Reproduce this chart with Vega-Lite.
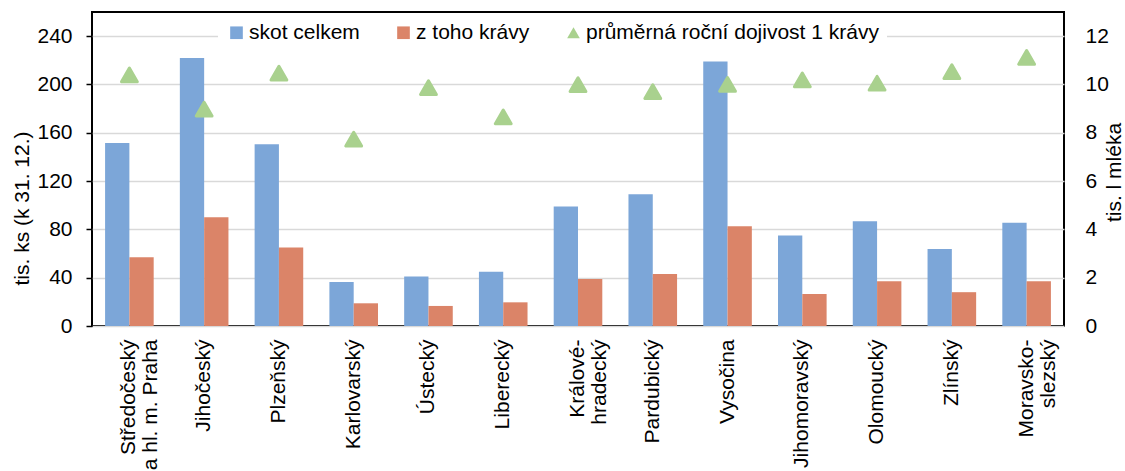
{
  "$schema": "https://vega.github.io/schema/vega-lite/v6.json",
  "width": 972,
  "height": 314,
  "autosize": {"type": "none"},
  "padding": {"left": 92, "top": 12, "right": 61, "bottom": 145},
  "background": "white",
  "config": {
    "font": "Liberation Sans",
    "view": {"stroke": "black", "strokeWidth": 2},
    "axis": {"labelColor": "black", "titleColor": "black", "labelFontSize": 21, "titleFontSize": 21, "titleFontWeight": "normal", "labelFont": "Liberation Sans", "titleFont": "Liberation Sans"},
    "legend": {
      "orient": "none",
      "legendX": 126,
      "legendY": 2,
      "direction": "horizontal",
      "fillColor": "white",
      "padding": 8,
      "columnPadding": 33,
      "labelOffset": 2,
      "symbolSize": 160,
      "symbolStrokeWidth": 0,
      "labelFontSize": 21,
      "labelColor": "black",
      "labelFont": "Liberation Sans",
      "labelLimit": 0
    }
  },
  "datasets": {
    "bars": [
      {"region": "Středočeský a hl. m. Praha", "series": "skot celkem", "value": 151.5},
      {"region": "Středočeský a hl. m. Praha", "series": "z toho krávy", "value": 57},
      {"region": "Jihočeský", "series": "skot celkem", "value": 222},
      {"region": "Jihočeský", "series": "z toho krávy", "value": 90},
      {"region": "Plzeňský", "series": "skot celkem", "value": 150.4},
      {"region": "Plzeňský", "series": "z toho krávy", "value": 65},
      {"region": "Karlovarský", "series": "skot celkem", "value": 36.4},
      {"region": "Karlovarský", "series": "z toho krávy", "value": 18.8},
      {"region": "Ústecký", "series": "skot celkem", "value": 41},
      {"region": "Ústecký", "series": "z toho krávy", "value": 16.6},
      {"region": "Liberecký", "series": "skot celkem", "value": 45},
      {"region": "Liberecký", "series": "z toho krávy", "value": 19.6},
      {"region": "Královéhradecký", "series": "skot celkem", "value": 99},
      {"region": "Královéhradecký", "series": "z toho krávy", "value": 39},
      {"region": "Pardubický", "series": "skot celkem", "value": 109},
      {"region": "Pardubický", "series": "z toho krávy", "value": 43},
      {"region": "Vysočina", "series": "skot celkem", "value": 219},
      {"region": "Vysočina", "series": "z toho krávy", "value": 82.5},
      {"region": "Jihomoravský", "series": "skot celkem", "value": 75},
      {"region": "Jihomoravský", "series": "z toho krávy", "value": 26.5},
      {"region": "Olomoucký", "series": "skot celkem", "value": 86.7},
      {"region": "Olomoucký", "series": "z toho krávy", "value": 37},
      {"region": "Zlínský", "series": "skot celkem", "value": 63.7},
      {"region": "Zlínský", "series": "z toho krávy", "value": 28},
      {"region": "Moravskoslezský", "series": "skot celkem", "value": 85.5},
      {"region": "Moravskoslezský", "series": "z toho krávy", "value": 37}
    ],
    "milk": [
      {"region": "Středočeský a hl. m. Praha", "series": "průměrná roční dojivost 1 krávy", "yield": 10.4},
      {"region": "Jihočeský", "series": "průměrná roční dojivost 1 krávy", "yield": 8.98},
      {"region": "Plzeňský", "series": "průměrná roční dojivost 1 krávy", "yield": 10.47},
      {"region": "Karlovarský", "series": "průměrná roční dojivost 1 krávy", "yield": 7.74},
      {"region": "Ústecký", "series": "průměrná roční dojivost 1 krávy", "yield": 9.87},
      {"region": "Liberecký", "series": "průměrná roční dojivost 1 krávy", "yield": 8.66},
      {"region": "Královéhradecký", "series": "průměrná roční dojivost 1 krávy", "yield": 9.99},
      {"region": "Pardubický", "series": "průměrná roční dojivost 1 krávy", "yield": 9.7},
      {"region": "Vysočina", "series": "průměrná roční dojivost 1 krávy", "yield": 10.0},
      {"region": "Jihomoravský", "series": "průměrná roční dojivost 1 krávy", "yield": 10.19},
      {"region": "Olomoucký", "series": "průměrná roční dojivost 1 krávy", "yield": 10.05},
      {"region": "Zlínský", "series": "průměrná roční dojivost 1 krávy", "yield": 10.53},
      {"region": "Moravskoslezský", "series": "průměrná roční dojivost 1 krávy", "yield": 11.12}
    ]
  },
  "encoding": {
    "x": {
      "field": "region",
      "type": "nominal",
      "sort": null,
      "scale": {
        "domain": ["Středočeský a hl. m. Praha", "Jihočeský", "Plzeňský", "Karlovarský", "Ústecký", "Liberecký", "Královéhradecký", "Pardubický", "Vysočina", "Jihomoravský", "Olomoucký", "Zlínský", "Moravskoslezský"],
        "paddingInner": 0.35,
        "paddingOuter": 0.175
      },
      "axis": {
        "title": null,
        "labelAngle": -90,
        "labelPadding": 13,
        "ticks": false,
        "tickSize": 0,
        "domain": false,
        "labelLineHeight": 22,
        "labelLimit": 0,
        "labelExpr": "datum.label == 'Středočeský a hl. m. Praha' ? ['Středočeský', 'a hl. m. Praha'] : datum.label == 'Královéhradecký' ? ['Králové-', 'hradecký'] : datum.label == 'Moravskoslezský' ? ['Moravsko-', 'slezský'] : datum.label"
      }
    }
  },
  "layer": [
    {
      "data": {"name": "bars"},
      "mark": {"type": "bar"},
      "encoding": {
        "xOffset": {"field": "series", "type": "nominal", "scale": {"domain": ["skot celkem", "z toho krávy"], "paddingInner": 0, "paddingOuter": 0}},
        "y": {
          "field": "value",
          "type": "quantitative",
          "stack": null,
          "scale": {"domain": [0, 260], "nice": false},
          "axis": {
            "orient": "left",
            "values": [0, 40, 80, 120, 160, 200, 240],
            "grid": true,
            "gridColor": "#d9d9d9",
            "gridWidth": 1.5,
            "domain": false,
            "ticks": true,
            "tickSize": 6,
            "tickColor": "black",
            "tickWidth": 1.5,
            "labelPadding": 14,
            "title": "tis. ks (k 31. 12.)",
            "titleAngle": 270,
            "titleX": -70,
            "titleY": 196,
            "titleBaseline": "middle",
            "titleAlign": "center"
          }
        },
        "fill": {
          "field": "series",
          "type": "nominal",
          "scale": {"domain": ["skot celkem", "z toho krávy"], "range": ["#7CA6D8", "#DB8468"]},
          "legend": null
        }
      }
    },
    {
      "data": {"name": "milk"},
      "mark": {"type": "point", "filled": true, "opacity": 1, "size": 250, "strokeWidth": 3, "strokeJoin": "round"},
      "encoding": {
        "y": {
          "field": "yield",
          "type": "quantitative",
          "scale": {"domain": [0, 13], "nice": false},
          "axis": {
            "orient": "right",
            "values": [0, 2, 4, 6, 8, 10, 12],
            "grid": false,
            "domain": false,
            "ticks": false,
            "tickSize": 0,
            "labelPadding": 21,
            "title": "tis. l mléka",
            "titleAngle": 270,
            "titleX": 50,
            "titleY": 160,
            "titleBaseline": "middle",
            "titleAlign": "center"
          }
        },
        "color": {
          "field": "series",
          "type": "nominal",
          "scale": {"domain": ["skot celkem", "z toho krávy", "průměrná roční dojivost 1 krávy"], "range": ["#7CA6D8", "#DB8468", "#A9D18E"]},
          "legend": {"title": null, "symbolStrokeWidth": 0, "encode": {"symbols": {"update": {"size": {"signal": "datum.value === 'průměrná roční dojivost 1 krávy' ? 240 : 140"}}}}}
        },
        "stroke": {
          "field": "series",
          "type": "nominal",
          "scale": {"domain": ["průměrná roční dojivost 1 krávy"], "range": ["#A9D18E"]},
          "legend": null
        },
        "shape": {
          "field": "series",
          "type": "nominal",
          "scale": {"domain": ["skot celkem", "z toho krávy", "průměrná roční dojivost 1 krávy"], "range": ["square", "square", "triangle-up"]},
          "legend": {"title": null, "symbolStrokeWidth": 0, "encode": {"symbols": {"update": {"size": {"signal": "datum.value === 'průměrná roční dojivost 1 krávy' ? 240 : 140"}}}}}
        }
      }
    }
  ],
  "resolve": {"scale": {"y": "independent"}}
}
